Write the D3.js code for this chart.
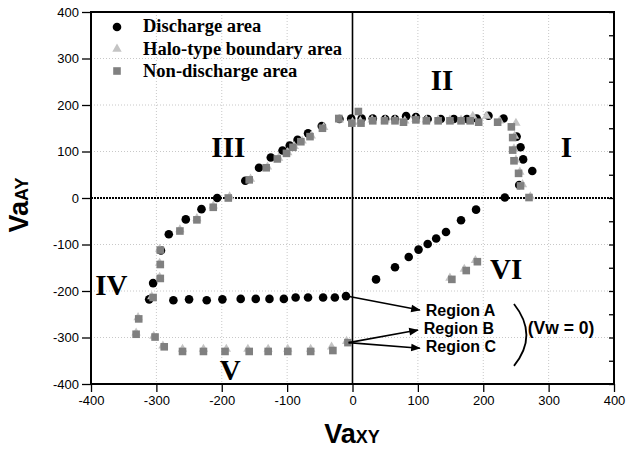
<!DOCTYPE html>
<html>
<head>
<meta charset="utf-8">
<script src="https://cdn.jsdelivr.net/npm/d3@7"></script>
<style>
  body { margin: 0; background: #fff; }
  svg { display: block; }
</style>
</head>
<body>
<svg id="chart" width="626" height="451"></svg>
<script>
  var width = 626, height = 451
  var margin = {left: 91, top: 12, right: 12, bottom: 67}

  var xTicks = [-400, -300, -200, -100, 0, 100, 200, 300, 400]
  var yTicks = [-400, -300, -200, -100, 0, 100, 200, 300, 400]

  // discharge area (black circles)
  var discharge = [
    [-2,171],[14,171],[31,171],[50,170],[65,170],[82,176],[97,174],[115,170],[135,170],
    [155,170],[175,170],[190,171],[208,177],[231,171],
    [251,132],[257,109],[261,83],[275,58],[255,28],[233,1],
    [189,-25],[166,-48],[143,-73],[128,-87],[115,-99],[101,-111],[86,-127],[65,-149],[36,-175],
    [-10,-211],[-27,-214],[-45,-214],[-68,-214],[-87,-214],[-105,-217],[-127,-217],[-148,-217],
    [-171,-217],[-199,-218],[-223,-220],[-250,-218],[-274,-220],[-311,-218],
    [-305,-183],[-293,-113],[-281,-78],[-255,-46],[-231,-24],[-207,0],
    [-164,37],[-143,65],[-125,87],[-107,102],[-96,113],[-84,125],[-68,139],[-47,155],[-20,170]
  ]

  // halo-type boundary area (light triangles)
  var halo = [
    [-20,168],[0,163],[12,165],[30,168],[50,168],[65,168],[80,166],[97,170],[113,168],[131,168],
    [149,168],[166,168],[184,176],[205,176],[225,166],[250,161],
    [248,133],[247,106],[250,82],[256,56],[260,29],[272,3],
    [188,-134],[171,-153],[149,-172],
    [-9,-308],[-32,-320],[-64,-325],[-99,-325],[-129,-325],[-160,-325],[-193,-325],[-228,-325],
    [-260,-325],[-290,-318],[-304,-297],[-331,-290],[-328,-257],[-307,-212],[-295,-170],
    [-295,-140],[-295,-110],[-264,-68],[-238,-44],[-213,-17],[-188,3],[-156,41],[-130,67],
    [-113,86],[-99,98],[-89,111],[-77,123],[-63,134],[-44,152]
  ]

  // non-discharge area (grey squares)
  var nonDischarge = [
    [-21,171],[-1,161],[9,186],[13,161],[31,166],[49,166],[65,166],[78,163],[97,168],[113,166],
    [131,166],[149,166],[166,166],[180,166],[193,163],[222,163],[243,153],
    [245,130],[245,103],[247,80],[254,53],[257,26],[270,1],
    [191,-137],[174,-156],[152,-175],
    [-7,-311],[-30,-328],[-64,-330],[-99,-330],[-129,-330],[-158,-330],[-195,-330],[-228,-330],
    [-260,-330],[-288,-320],[-302,-299],[-331,-293],[-327,-260],[-305,-214],[-294,-173],
    [-294,-143],[-294,-112],[-264,-71],[-238,-47],[-213,-20],[-190,0],[-158,39],[-132,65],
    [-115,84],[-101,96],[-91,109],[-79,121],[-65,132],[-46,150]
  ]

  var legendLabels = ["Discharge area", "Halo-type boundary area", "Non-discharge area"]

  var romanLabels = [
    {t: "I", x: 327, y: 88},
    {t: "II", x: 137, y: 232},
    {t: "III", x: -190, y: 88},
    {t: "IV", x: -369, y: -209},
    {t: "V", x: -187, y: -391},
    {t: "VI", x: 235, y: -174}
  ]

  var regionLabels = [
    {t: "Region A", x: 112, y: -254},
    {t: "Region B", x: 109, y: -292},
    {t: "Region C", x: 112, y: -331}
  ]
  var arrows = [
    {from: [-5,-212], to: [103,-241]},
    {from: [-6,-311], to: [100,-284]},
    {from: [-6,-311], to: [103,-323]}
  ]

  var svg = d3.select("#chart")
  var x = d3.scaleLinear().domain([-400, 400]).range([margin.left, width - margin.right])
  var y = d3.scaleLinear().domain([-400, 400]).range([height - margin.bottom, margin.top])

  svg.append("defs").append("marker")
    .attr("id", "arrow")
    .attr("viewBox", "0 0 10 10")
    .attr("refX", 9).attr("refY", 5)
    .attr("markerWidth", 7).attr("markerHeight", 6)
    .attr("orient", "auto")
    .append("path")
    .attr("d", "M0,1L10,5L0,9Z")
    .attr("fill", "#000")

  // grid
  var grid = svg.append("g")
  grid.selectAll(".gx")
    .data(xTicks.filter(function(d){ return d != 0 && Math.abs(d) < 400 }))
    .enter().append("line")
    .attr("x1", function(d){ return x(d) }).attr("x2", function(d){ return x(d) })
    .attr("y1", y(400)).attr("y2", y(-400))
    .attr("stroke", "#c8c8c8").attr("stroke-dasharray", "1,2")
  grid.selectAll(".gy")
    .data(yTicks.filter(function(d){ return d != 0 && Math.abs(d) < 400 }))
    .enter().append("line")
    .attr("y1", function(d){ return y(d) }).attr("y2", function(d){ return y(d) })
    .attr("x1", x(-400)).attr("x2", x(400))
    .attr("stroke", "#c8c8c8").attr("stroke-dasharray", "1,2")

  // zero lines
  svg.append("line")
    .attr("x1", x(-400)).attr("x2", x(400)).attr("y1", y(0)).attr("y2", y(0))
    .attr("stroke", "#000").attr("stroke-width", 2).attr("stroke-dasharray", "2,1")
  svg.append("line")
    .attr("x1", x(0)).attr("x2", x(0)).attr("y1", y(400)).attr("y2", y(-400))
    .attr("stroke", "#000").attr("stroke-width", 1.6)

  // axes
  var minor = d3.range(-400, 401, 50)
  var fmt = function(d){ return String(d) }
  var xAxis = svg.append("g")
    .attr("transform", "translate(0," + y(-400) + ")")
  xAxis.call(d3.axisBottom(x).tickValues(minor).tickSize(4).tickFormat(""))
  xAxis.call(d3.axisBottom(x).tickValues(xTicks).tickSize(8).tickPadding(4).tickFormat(fmt))
  var yAxis = svg.append("g")
    .attr("transform", "translate(" + x(-400) + ",0)")
  yAxis.call(d3.axisLeft(y).tickValues(minor).tickSize(5).tickFormat(""))
  yAxis.call(d3.axisLeft(y).tickValues(yTicks).tickSize(9).tickPadding(3).tickFormat(fmt))
  svg.append("g")
    .attr("transform", "translate(" + x(400) + ",0)")
    .call(d3.axisLeft(y).tickValues(minor).tickSize(5).tickFormat(""))
  svg.selectAll(".domain").remove()
  svg.selectAll(".tick line").attr("stroke", "#000").attr("stroke-width", 1.3)
  svg.selectAll(".tick text")
    .attr("font-family", "Liberation Sans, Arial, sans-serif")
    .attr("font-size", 13).attr("fill", "#000")

  svg.append("rect")
    .attr("x", x(-400)).attr("y", y(400))
    .attr("width", x(400) - x(-400)).attr("height", y(-400) - y(400))
    .attr("fill", "none").attr("stroke", "#000").attr("stroke-width", 2)

  // data marks
  var g = svg.append("g")
  g.selectAll(".c").data(discharge).enter().append("circle")
    .attr("cx", function(d){ return x(d[0]) })
    .attr("cy", function(d){ return y(d[1]) })
    .attr("r", 4.3).attr("fill", "#000")
  var tri = d3.symbol().type(d3.symbolTriangle).size(38)
  g.selectAll(".t").data(halo).enter().append("path")
    .attr("d", tri)
    .attr("transform", function(d){ return "translate(" + x(d[0]) + "," + y(d[1]) + ")" })
    .attr("fill", "#c4c4c4")
  g.selectAll(".s").data(nonDischarge).enter().append("rect")
    .attr("x", function(d){ return x(d[0]) - 3.8 })
    .attr("y", function(d){ return y(d[1]) - 3.8 })
    .attr("width", 7.6).attr("height", 7.6)
    .attr("fill", "#808080")

  // legend
  var leg = svg.append("g")
  leg.append("circle").attr("cx", 117).attr("cy", 27).attr("r", 4.3).attr("fill", "#000")
  leg.append("path").attr("d", tri).attr("transform", "translate(117,49)").attr("fill", "#c4c4c4")
  leg.append("rect").attr("x", 113.2).attr("y", 67.2).attr("width", 7.6).attr("height", 7.6).attr("fill", "#808080")
  leg.selectAll("text").data(legendLabels).enter().append("text")
    .attr("x", 143)
    .attr("y", function(d, i){ return 32 + i * 22.5 })
    .attr("font-family", "Liberation Serif, Times New Roman, serif")
    .attr("font-weight", "bold").attr("font-size", 18.5)
    .text(function(d){ return d })

  // roman numerals
  svg.selectAll(".roman").data(romanLabels).enter().append("text")
    .attr("x", function(d){ return x(d.x) })
    .attr("y", function(d){ return y(d.y) })
    .attr("text-anchor", "middle")
    .attr("font-family", "Liberation Serif, Times New Roman, serif")
    .attr("font-weight", "bold").attr("font-size", 29)
    .text(function(d){ return d.t })

  // region annotations
  svg.selectAll(".arr").data(arrows).enter().append("line")
    .attr("x1", function(d){ return x(d.from[0]) })
    .attr("y1", function(d){ return y(d.from[1]) })
    .attr("x2", function(d){ return x(d.to[0]) })
    .attr("y2", function(d){ return y(d.to[1]) })
    .attr("stroke", "#000").attr("stroke-width", 1.6)
    .attr("marker-end", "url(#arrow)")
  svg.selectAll(".reg").data(regionLabels).enter().append("text")
    .attr("x", function(d){ return x(d.x) })
    .attr("y", function(d){ return y(d.y) })
    .attr("font-family", "Liberation Sans, Arial, sans-serif")
    .attr("font-weight", "bold").attr("font-size", 16)
    .text(function(d){ return d.t })
  svg.append("path")
    .attr("d", "M" + x(247) + "," + y(-228) + "Q" + x(285) + "," + y(-295) + " " + x(247) + "," + y(-361))
    .attr("fill", "none").attr("stroke", "#000").attr("stroke-width", 1.8)
  svg.append("text")
    .attr("x", x(268)).attr("y", y(-292))
    .attr("font-family", "Liberation Sans, Arial, sans-serif")
    .attr("font-weight", "bold").attr("font-size", 17.5)
    .text("(Vw = 0)")

  // axis titles
  var xt = svg.append("text")
    .attr("x", 352).attr("y", 443)
    .attr("text-anchor", "middle")
    .attr("font-family", "Liberation Sans, Arial, sans-serif")
    .attr("font-weight", "bold")
  xt.append("tspan").attr("font-size", 27).text("Va")
  xt.append("tspan").attr("font-size", 18).text("XY")
  var yt = svg.append("text")
    .attr("transform", "translate(28,205) rotate(-90)")
    .attr("text-anchor", "middle")
    .attr("font-family", "Liberation Sans, Arial, sans-serif")
    .attr("font-weight", "bold")
  yt.append("tspan").attr("font-size", 27).text("Va")
  yt.append("tspan").attr("font-size", 18).text("AY")
</script>
</body>
</html>
